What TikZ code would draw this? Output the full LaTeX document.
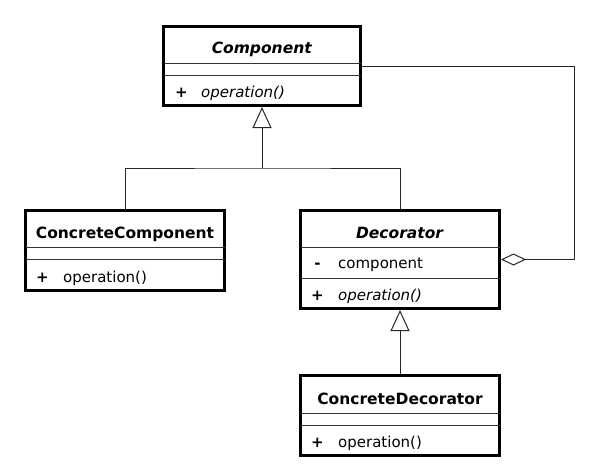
\documentclass[tikz,border=0pt]{standalone}
\usepackage{fontspec}
\setmainfont{DejaVu Sans}
\usetikzlibrary{arrows.meta}
\begin{document}
\begin{tikzpicture}[x=1pt,y=-1pt,
  classbox/.style={draw=black,line width=3pt,rectangle,inner sep=0pt,anchor=north west},
  divline/.style={draw=black!80,line width=1pt},
  lbl/.style={inner sep=0pt,anchor=base,font=\fontsize{15}{18}\selectfont},
  namelbl/.style={inner sep=0pt,anchor=base,font=\fontsize{15.5}{18}\selectfont\bfseries},
  member/.style={inner sep=0pt,anchor=base west,font=\fontsize{15}{18}\selectfont},
  conn/.style={draw=black!85,line width=1pt},
  inh/.style={conn,-{Triangle[open,length=21pt,width=19pt,line width=1pt]}},
  agg/.style={conn,{Diamond[open,length=25pt,width=12pt,line width=1pt]}-}
]
\useasboundingbox (0,0) rectangle (600,475);
% Component
\node[classbox,minimum width=197pt,minimum height=79pt] (comp) at (162,25) {};
\draw[divline] (163.5,63) -- (360.5,63);
\draw[divline] (163.5,75) -- (360.5,75);
\node[namelbl] (compname) at (262,53) {\textit{Component}};
\node[lbl] (compplus) at (181.5,97) {\textbf{+}};
\node[member] (compop) at (201,97) {\textit{operation()}};
% ConcreteComponent
\node[classbox,minimum width=199pt,minimum height=80pt] (cc) at (24,209) {};
\draw[divline] (25.5,247) -- (224.5,247);
\draw[divline] (25.5,259) -- (224.5,259);
\node[namelbl] (ccname) at (125,238) {ConcreteComponent};
\node[lbl] (ccplus) at (42.5,282) {\textbf{+}};
\node[member] (ccop) at (63,282) {operation()};
% Decorator
\node[classbox,minimum width=199pt,minimum height=98pt] (dec) at (299,209) {};
\draw[divline] (300.5,247) -- (499.5,247);
\draw[divline] (300.5,278) -- (499.5,278);
\node[namelbl] (decname) at (400,238) {\textit{Decorator}};
\node[lbl] (decminus) at (317.5,268) {\textbf{-}};
\node[member] (decattr) at (338,268) {component};
\node[lbl] (decplus) at (317.5,300) {\textbf{+}};
\node[member] (decop) at (338,300) {\textit{operation()}};
% ConcreteDecorator
\node[classbox,minimum width=199pt,minimum height=80pt] (cd) at (299,374) {};
\draw[divline] (300.5,413) -- (499.5,413);
\draw[divline] (300.5,425) -- (499.5,425);
\node[namelbl] (cdname) at (400,404) {ConcreteDecorator};
\node[lbl] (cdplus) at (317.5,447) {\textbf{+}};
\node[member] (cdop) at (338,447) {operation()};
% connectors
\coordinate (join) at (262,168);
\coordinate (corner) at (574.5,66);
\draw[conn] (cc.north) |- (join) -| (dec.north);
\draw[inh] (join) -- (comp.south);
\draw[inh] (cd.north) -- (dec.south);
\draw[agg] (dec.east) -| (corner) -- (comp.east);
\end{tikzpicture}
\end{document}
